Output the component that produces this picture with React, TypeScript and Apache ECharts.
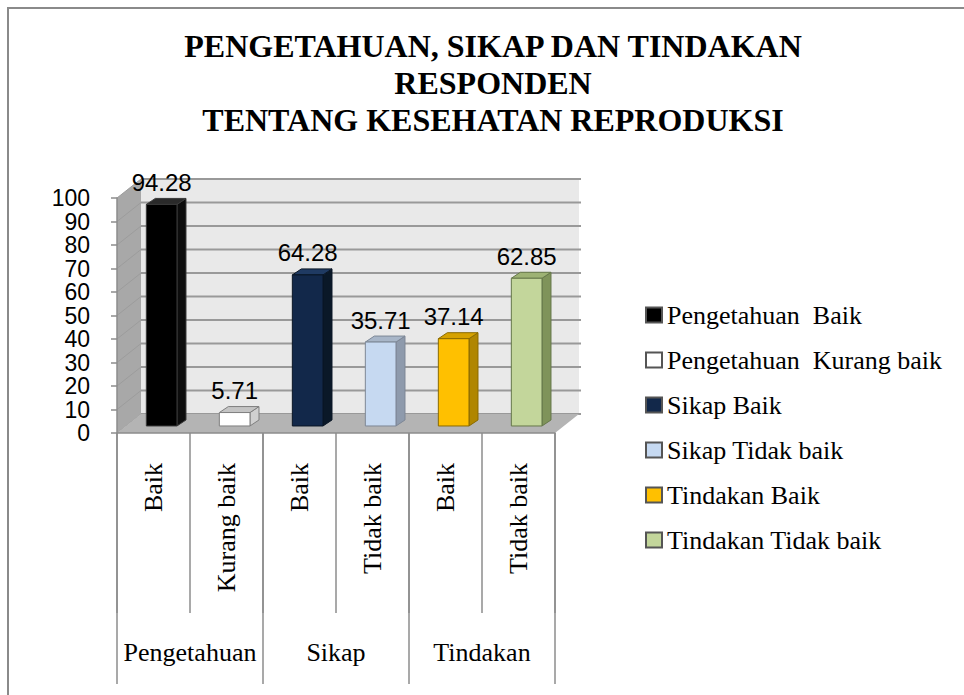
import React, { useEffect, useRef } from "react";
import * as echarts from "echarts";

const titleLines = [
  "PENGETAHUAN, SIKAP DAN TINDAKAN",
  "RESPONDEN",
  "TENTANG KESEHATAN REPRODUKSI",
];
const categories = ["Baik", "Kurang baik", "Baik", "Tidak baik", "Baik", "Tidak baik"];
const groups = ["Pengetahuan", "Sikap", "Tindakan"];
const seriesNames = [
  "Pengetahuan  Baik",
  "Pengetahuan  Kurang baik",
  "Sikap Baik",
  "Sikap Tidak baik",
  "Tindakan Baik",
  "Tindakan Tidak baik",
];
const values = [94.28, 5.71, 64.28, 35.71, 37.14, 62.85];
const yMin = 0;
const yMax = 100;
const yStep = 10;

const frontColors = ["#000000", "#ffffff", "#12284a", "#c6d9f1", "#ffc000", "#c3d69b"];
const sideColors = ["#0d0d0d", "#d0d0d0", "#0a1828", "#8e9aac", "#b08600", "#7f935a"];
const topColors = ["#2a2a2a", "#c4c4c4", "#1f3a62", "#a8b6c8", "#d6a200", "#9db274"];
const edgeColors = ["#3a3a3a", "#7f7f7f", "#0a1626", "#7d8796", "#8a6a00", "#66784a"];

const DX = 24;
const DY = -19;

export default function App() {
  const ref = useRef<HTMLDivElement>(null);

  useEffect(() => {
    const chart = echarts.init(ref.current!, undefined, { renderer: "svg" });

    const wallRender = (_params: any, api: any) => {
      const band = api.size([1, 0])[0];
      const p0 = api.coord([0, yMin]);
      const pN = api.coord([categories.length - 1, yMin]);
      const left = p0[0] - band / 2;
      const right = pN[0] + band / 2;
      const yBase = p0[1];
      const yTop = api.coord([0, yMax])[1];
      const children: any[] = [];
      children.push({
        type: "rect",
        shape: { x: left + DX, y: yTop + DY, width: right - left, height: yBase - yTop },
        style: { fill: "#e9e9e9" },
      });
      children.push({
        type: "polygon",
        shape: {
          points: [
            [left, yBase],
            [left, yTop],
            [left + DX, yTop + DY],
            [left + DX, yBase + DY],
          ],
        },
        style: { fill: "#a8a8a8" },
      });
      for (let v = yMin; v <= yMax; v += yStep) {
        const y = api.coord([0, v])[1];
        children.push({
          type: "line",
          shape: { x1: left, y1: y, x2: left + DX, y2: y + DY },
          style: { stroke: "#9c9c9c", lineWidth: 1 },
        });
        children.push({
          type: "line",
          shape: { x1: left + DX, y1: y + DY, x2: right + DX + 2, y2: y + DY },
          style: { stroke: "#999999", lineWidth: 2 },
        });
      }
      children.push({
        type: "polygon",
        shape: {
          points: [
            [left, yBase],
            [right, yBase],
            [right + DX, yBase + DY],
            [left + DX, yBase + DY],
          ],
        },
        style: { fill: "#b4b4b4" },
      });
      return { type: "group", children };
    };

    const makeBarRender = (i: number) => (_params: any, api: any) => {
      const idx = api.value(0);
      const v = api.value(1);
      const base = api.coord([idx, yMin]);
      const topP = api.coord([idx, v]);
      const band = api.size([1, 0])[0];
      const w = band * 0.42;
      const ox = DX * 0.34;
      const oy = DY * 0.37;
      const ddx = 9;
      const ddy = -6;
      const x1 = base[0] - w / 2 + ox;
      const x2 = x1 + w;
      const yb = base[1] + oy;
      const yt = topP[1] + oy;
      return {
        type: "group",
        children: [
          {
            type: "polygon",
            shape: {
              points: [
                [x2, yb],
                [x2, yt],
                [x2 + ddx, yt + ddy],
                [x2 + ddx, yb + ddy],
              ],
            },
            style: { fill: sideColors[i], stroke: edgeColors[i], lineWidth: 1 },
          },
          {
            type: "polygon",
            shape: {
              points: [
                [x1, yt],
                [x2, yt],
                [x2 + ddx, yt + ddy],
                [x1 + ddx, yt + ddy],
              ],
            },
            style: { fill: topColors[i], stroke: edgeColors[i], lineWidth: 1 },
          },
          {
            type: "rect",
            shape: { x: x1, y: yt, width: w, height: yb - yt },
            style: { fill: frontColors[i], stroke: edgeColors[i], lineWidth: 1 },
          },
          {
            type: "text",
            style: {
              text: String(v),
              x: (x1 + x2) / 2,
              y: yt + ddy - 4,
              align: "center",
              verticalAlign: "bottom",
              fill: "#000000",
              fontFamily: "Liberation Sans",
              fontSize: 24,
            },
          },
        ],
      };
    };

    const barSeries = values.map((v, i) => ({
      type: "custom",
      name: seriesNames[i],
      coordinateSystem: "cartesian2d",
      xAxisIndex: 0,
      yAxisIndex: 0,
      z: 3,
      itemStyle: { color: frontColors[i] },
      data: [[i, v]],
      encode: { x: 0, y: 1 },
      renderItem: makeBarRender(i),
    }));

    chart.setOption({
      animation: false,
      backgroundColor: "#ffffff",
      title: {
        text: titleLines.join("\n"),
        left: 493,
        top: 27,
        textAlign: "center",
        padding: 0,
        textStyle: {
          fontFamily: "Liberation Serif",
          fontWeight: "bold",
          fontSize: 32,
          lineHeight: 37,
          color: "#000000",
        },
      },
      graphic: [
        {
          type: "rect",
          shape: { x: 8, y: 8, width: 1000, height: 720 },
          style: { fill: "none", stroke: "#8a8a8a", lineWidth: 2 },
          silent: true,
          z: 100,
        },
      ],
      legend: {
        orient: "vertical",
        left: 640,
        top: 295,
        itemWidth: 16,
        itemHeight: 15,
        itemGap: 15,
        icon: "rect",
        selectedMode: false,
        textStyle: {
          fontFamily: "Liberation Serif",
          fontSize: 26,
          lineHeight: 30,
          color: "#000000",
        },
        data: seriesNames.map((n, i) => ({
          name: n,
          icon: "rect",
          itemStyle: { color: frontColors[i], borderColor: "#555555", borderWidth: 2 },
        })),
      },
      grid: { left: 117, right: 409, top: 198, bottom: 262, containLabel: false },
      xAxis: [
        {
          type: "category",
          position: "bottom",
          data: categories,
          boundaryGap: true,
          z: 5,
          axisLine: { show: true, lineStyle: { color: "#8c8c8c", width: 1.5 } },
          axisTick: {
            show: true,
            interval: 0,
            length: 180,
            lineStyle: { color: "#8c8c8c", width: 1.5 },
          },
          axisLabel: {
            interval: 0,
            rotate: 90,
            margin: 30,
            color: "#000000",
            fontFamily: "Liberation Serif",
            fontSize: 26,
          },
          splitLine: { show: false },
        },
        {
          type: "category",
          position: "bottom",
          data: groups,
          boundaryGap: true,
          z: 5,
          axisLine: { show: false },
          axisTick: {
            show: true,
            interval: 0,
            length: 251,
            lineStyle: { color: "#8c8c8c", width: 1.5 },
          },
          axisLabel: {
            interval: 0,
            margin: 206,
            color: "#000000",
            fontFamily: "Liberation Serif",
            fontSize: 26,
          },
          splitLine: { show: false },
        },
      ],
      yAxis: {
        type: "value",
        min: yMin,
        max: yMax,
        interval: yStep,
        z: 5,
        axisLine: { show: true, lineStyle: { color: "#8c8c8c", width: 1.5 } },
        axisTick: { show: true, length: 6, lineStyle: { color: "#8c8c8c", width: 1.5 } },
        axisLabel: {
          margin: 27,
          color: "#000000",
          fontFamily: "Liberation Sans",
          fontSize: 23,
          lineHeight: 22,
          showMinLabel: true,
          showMaxLabel: true,
          hideOverlap: false,
        },
        splitLine: { show: false },
      },
      series: [
        {
          type: "custom",
          name: "__wall",
          coordinateSystem: "cartesian2d",
          xAxisIndex: 0,
          yAxisIndex: 0,
          silent: true,
          z: 1,
          data: [[0, 0]],
          encode: { x: 0, y: 1 },
          renderItem: wallRender,
        },
        ...barSeries,
      ],
    });

    return () => {
      chart.dispose();
    };
  }, []);

  return (
    <div
      ref={ref}
      style={{ position: "fixed", left: 0, top: 0, width: 964, height: 695 }}
    />
  );
}
